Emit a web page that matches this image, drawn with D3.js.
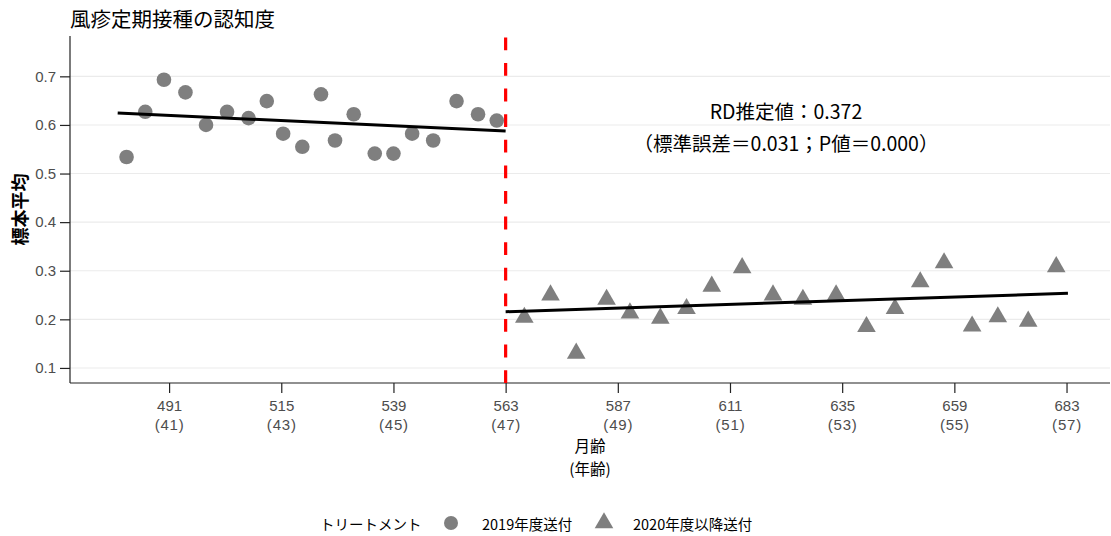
<!DOCTYPE html>
<html>
<head>
<meta charset="utf-8">
<script src="https://cdn.jsdelivr.net/npm/d3@7"></script>
<style>
  body { margin: 0; background: #fff; }
  svg text { font-family: "Noto Sans CJK JP", "Liberation Sans", sans-serif; }
  .ytick text, .xtick text { font-family: "Liberation Sans", "Noto Sans CJK JP", sans-serif; }
</style>
</head>
<body>
<div class="chart"></div>
<script>
// 2019年度送付 (circles): month of age bins and sample means
var monthsBefore = [481.9, 485.9, 489.9, 494.5, 498.9, 503.4, 508.0, 511.9, 515.4, 519.5,
                    523.5, 526.5, 530.5, 535.0, 539.0, 543.0, 547.5, 552.5, 557.1, 561.1];
var meansBefore  = [0.534, 0.627, 0.693, 0.667, 0.600, 0.627, 0.614, 0.649, 0.582, 0.555,
                    0.663, 0.568, 0.622, 0.541, 0.541, 0.582, 0.568, 0.649, 0.622, 0.609];

// 2020年度以降送付 (triangles)
var monthsAfter = [567.0, 572.6, 578.1, 584.6, 589.6, 596.1, 601.7, 607.1, 613.6, 620.2,
                   626.6, 633.7, 640.2, 646.3, 651.7, 656.8, 662.8, 668.3, 674.8, 680.8];
var meansAfter  = [0.204, 0.250, 0.130, 0.241, 0.213, 0.202, 0.222, 0.268, 0.306, 0.250,
                   0.241, 0.250, 0.185, 0.222, 0.277, 0.316, 0.186, 0.205, 0.196, 0.308];

// linear fits on each side of the cutoff
var fitBefore = [{m: 480.0, v: 0.6245}, {m: 563, v: 0.5875}];
var fitAfter  = [{m: 563, v: 0.2156}, {m: 683.3, v: 0.2535}];

var cutoff = 563;
var xLimits = [469.8, 692.3];
var yLimits = [0.069, 0.783];

var xTicks = [491, 515, 539, 563, 587, 611, 635, 659, 683];
var ageLabels = [41, 43, 45, 47, 49, 51, 53, 55, 57];
var yTicks = [0.1, 0.2, 0.3, 0.4, 0.5, 0.6, 0.7];

var titleText = "風疹定期接種の認知度";
var yTitle = "標本平均";
var xTitle = ["月齢", "(年齢)"];
var noteLines = ["RD推定値：0.372", "（標準誤差＝0.031；P値＝0.000）"];
var legendTitle = "トリートメント";
var groupNames = ["2019年度送付", "2020年度以降送付"];

var W = 1111, H = 536;
var plot = {left: 70, right: 1110, top: 36, bottom: 383};
var grey = "#7f7f7f";

var x = d3.scaleLinear().domain(xLimits).range([plot.left, plot.right]);
var y = d3.scaleLinear().domain(yLimits).range([plot.bottom, plot.top]);

var svg = d3.select(".chart").append("svg")
  .attr("width", W)
  .attr("height", H);

// horizontal grid
svg.append("g")
  .selectAll("line")
  .data(yTicks)
  .join("line")
  .attr("x1", plot.left).attr("x2", plot.right)
  .attr("y1", function(d) { return y(d); })
  .attr("y2", function(d) { return y(d); })
  .attr("stroke", "#ebebeb")
  .attr("stroke-width", 1.1);

// y axis
var yAxis = svg.append("g")
  .attr("class", "ytick")
  .attr("transform", "translate(" + plot.left + ",0)")
  .call(d3.axisLeft(y).tickValues(yTicks).tickSize(10).tickPadding(4)
          .tickFormat(d3.format(".1f")));
yAxis.select(".domain").attr("d", "M0," + plot.top + "V" + plot.bottom)
  .attr("stroke", "#222").attr("stroke-width", 1.2);
yAxis.selectAll(".tick line").attr("stroke", "#222").attr("stroke-width", 1.2);
yAxis.selectAll(".tick text")
  .attr("fill", "#4d4d4d")
  .style("font-size", "15px");

// x axis: month on first line, age in brackets below
var xAxis = svg.append("g")
  .attr("class", "xtick")
  .attr("transform", "translate(0," + plot.bottom + ")")
  .call(d3.axisBottom(x).tickValues(xTicks).tickSize(10).tickFormat(""));
xAxis.select(".domain").attr("d", "M" + plot.left + ",0H" + plot.right)
  .attr("stroke", "#222").attr("stroke-width", 1.2);
xAxis.selectAll(".tick line").attr("stroke", "#222").attr("stroke-width", 1.2);
xAxis.selectAll(".tick").each(function(d, i) {
  var g = d3.select(this);
  g.append("text")
    .attr("y", 22)
    .attr("fill", "#4d4d4d")
    .attr("text-anchor", "middle")
    .attr("dominant-baseline", "central")
    .style("font-size", "15px")
    .text(d);
  g.append("text")
    .attr("y", 41)
    .attr("fill", "#4d4d4d")
    .attr("text-anchor", "middle")
    .attr("dominant-baseline", "central")
    .style("font-size", "15px")
    .style("letter-spacing", "0.8px")
    .text("(" + ageLabels[i] + ")");
});

// cutoff
svg.append("line")
  .attr("x1", x(cutoff)).attr("x2", x(cutoff))
  .attr("y1", plot.bottom).attr("y2", plot.top)
  .attr("stroke", "#ff0000")
  .attr("stroke-width", 3.2)
  .attr("stroke-dasharray", "12.8,12.8");

// points
var before = monthsBefore.map(function(m, i) { return {m: m, v: meansBefore[i]}; });
var after = monthsAfter.map(function(m, i) { return {m: m, v: meansAfter[i]}; });

svg.append("g")
  .selectAll("circle")
  .data(before)
  .join("circle")
  .attr("cx", function(d) { return x(d.m); })
  .attr("cy", function(d) { return y(d.v); })
  .attr("r", 7.3)
  .attr("fill", grey);

var tri = d3.symbol().type(d3.symbolTriangle).size(150);
svg.append("g")
  .selectAll("path")
  .data(after)
  .join("path")
  .attr("transform", function(d) { return "translate(" + x(d.m) + "," + y(d.v) + ")"; })
  .attr("d", tri)
  .attr("fill", grey);

// fit lines
var line = d3.line()
  .x(function(d) { return x(d.m); })
  .y(function(d) { return y(d.v); });

[fitBefore, fitAfter].forEach(function(f) {
  svg.append("path")
    .datum(f)
    .attr("d", line)
    .attr("fill", "none")
    .attr("stroke", "#000")
    .attr("stroke-width", 3);
});

// texts
svg.append("text")
  .attr("x", 70).attr("y", 18)
  .attr("dominant-baseline", "central")
  .style("font-size", "20.5px")
  .text(titleText);

svg.append("text")
  .attr("transform", "translate(19," + (plot.top + plot.bottom) / 2 + ") rotate(-90)")
  .attr("text-anchor", "middle")
  .attr("dominant-baseline", "central")
  .style("font-size", "18px")
  .style("font-weight", "bold")
  .text(yTitle);

svg.append("g")
  .selectAll("text")
  .data(xTitle)
  .join("text")
  .attr("x", (plot.left + plot.right) / 2)
  .attr("y", function(d, i) { return 445 + i * 23; })
  .attr("text-anchor", "middle")
  .attr("dominant-baseline", "central")
  .style("font-size", "15.5px")
  .text(function(d) { return d; });

svg.append("g")
  .selectAll("text")
  .data(noteLines)
  .join("text")
  .attr("x", 786)
  .attr("y", function(d, i) { return 110 + i * 32; })
  .attr("text-anchor", "middle")
  .attr("dominant-baseline", "central")
  .style("font-size", "19.5px")
  .text(function(d) { return d; });

// legend
var lg = svg.append("g").attr("transform", "translate(0,523)");
lg.append("text").attr("x", 320).attr("dominant-baseline", "central")
  .style("font-size", "14.5px").text(legendTitle);
lg.append("circle").attr("cx", 451).attr("r", 7).attr("fill", grey);
lg.append("text").attr("x", 482).attr("dominant-baseline", "central")
  .style("font-size", "14.5px").text(groupNames[0]);
lg.append("path").attr("transform", "translate(604,0)").attr("d", tri).attr("fill", grey);
lg.append("text").attr("x", 633).attr("dominant-baseline", "central")
  .style("font-size", "14.5px").text(groupNames[1]);
</script>
</body>
</html>
